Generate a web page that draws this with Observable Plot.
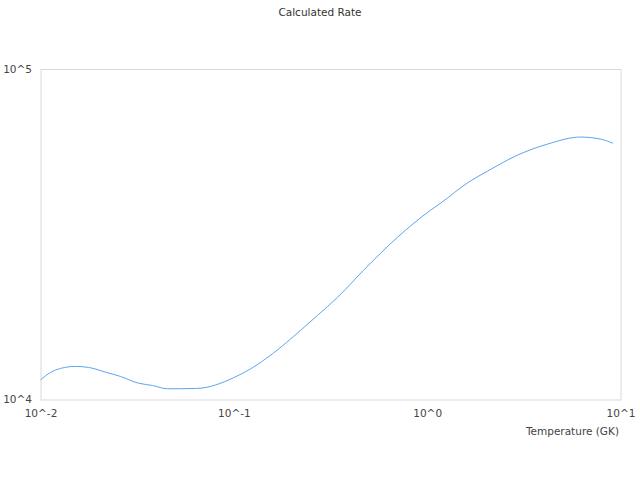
<!DOCTYPE html>
<html>
<head>
<meta charset="utf-8">
<script src="https://cdn.jsdelivr.net/npm/d3@7"></script>
<script src="https://cdn.jsdelivr.net/npm/@observablehq/plot@0.6"></script>
<style>
  html, body { margin: 0; padding: 0; background: #fff; }
  #title { height: 24px; line-height: 24px; text-align: center; font-family: "DejaVu Sans", sans-serif; font-size: 10.5px; color: #333; width: 640px; }
</style>
</head>
<body>
<div id="title">Calculated Rate</div>
<div id="chart"></div>
<script>
const temperature = [0.01, 0.0112, 0.01262, 0.01509, 0.01761, 0.02157, 0.02578, 0.03193, 0.03773, 0.04511, 0.05267, 0.06297, 0.0705, 0.0799, 0.09902, 0.1212, 0.1576, 0.2199, 0.2693, 0.3418, 0.4657, 0.6982, 1.0344, 1.1652, 1.6267, 2.0397, 2.9155, 4.1677, 6.1741, 7.834, 9.04];
const rate = [11537, 12115, 12459, 12635, 12547, 12140, 11783, 11244, 11064, 10813, 10820, 10836, 10900, 11103, 11676, 12416, 13804, 16238, 18034, 20443, 24683, 31077, 37515, 39393, 45607, 49251, 55069, 59460, 62459, 61585, 59883];
const xTicks = [0.01, 0.1, 1, 10];
const yTicks = [1e4, 1e5];
const xLabel = "Temperature (GK)";

const data = temperature.map((t, i) => ({t, r: rate[i]}));
const fmt = d => `10^${Math.round(Math.log10(d))}`;

const chart = Plot.plot({
  width: 640,
  height: 456,
  marginTop: 45,
  marginBottom: 80.5,
  marginLeft: 40.5,
  marginRight: 19.5,
  style: {fontFamily: "DejaVu Sans, sans-serif", fontSize: "10.5px", color: "#444", background: "#fff"},
  x: {type: "log", domain: [0.01, 10]},
  y: {type: "log", domain: [1e4, 1e5]},
  marks: [
    Plot.frame({stroke: "#d9d9d9"}),
    Plot.axisX({ticks: xTicks, tickFormat: fmt, tickSize: 0, tickPadding: 10, label: null, fill: "#444"}),
    Plot.axisY({ticks: yTicks, tickFormat: fmt, tickSize: 0, tickPadding: 9, label: null, fill: "#444"}),
    Plot.text([xLabel], {text: d => d, frameAnchor: "bottom-right", textAnchor: "end", lineAnchor: "middle", dx: -2, dy: 31.5, fill: "#444"}),
    Plot.line(data, {x: "t", y: "r", stroke: "#5aa5f2", strokeWidth: 1, curve: "monotone-x"})
  ]
});
document.getElementById("chart").appendChild(chart);
</script>
</body>
</html>
